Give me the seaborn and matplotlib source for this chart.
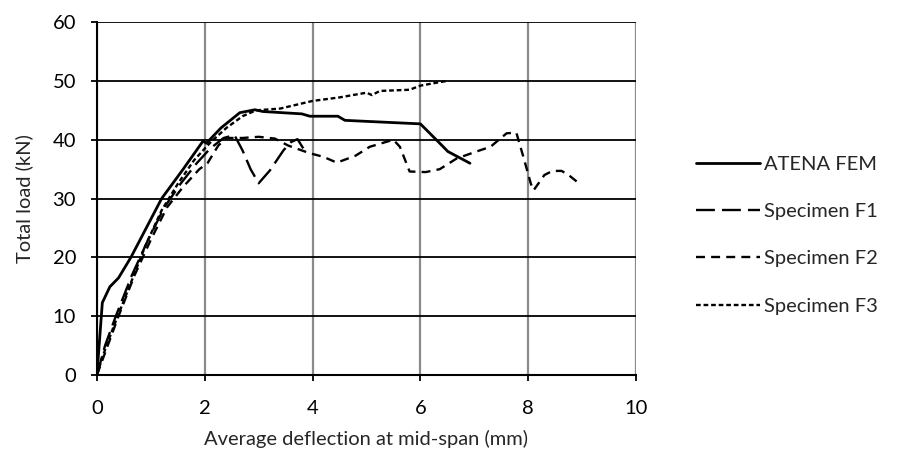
import seaborn as sns
import matplotlib.pyplot as plt
import pandas as pd

# values (deflection mm, load kN)
fem_x = [0, 0.1, 0.24, 0.4, 0.63, 1.2, 1.6, 1.97, 2.03, 2.3, 2.65, 2.93, 3.08, 3.8, 3.95, 4.47, 4.6, 5.06, 6.0, 6.36, 6.51, 6.92]
fem_y = [0, 12.3, 15.0, 16.5, 20.0, 30.0, 35.0, 39.8, 39.4, 42.0, 44.6, 45.1, 44.8, 44.4, 44.0, 44.0, 43.3, 43.1, 42.7, 39.4, 38.0, 36.0]

f1_x = [0, 0.15, 0.35, 0.65, 0.95, 1.25, 1.55, 1.85, 2.1, 2.35, 2.55, 2.7, 2.85, 3.0, 3.21, 3.46, 3.6, 3.72, 3.85]
f1_y = [0, 5.0, 10.0, 17.0, 23.0, 28.5, 32.5, 36.0, 38.5, 40.3, 40.8, 38.2, 35.0, 32.6, 34.8, 38.2, 39.6, 40.1, 38.2]

f2_x = [0, 0.2, 0.4, 0.7, 1.0, 1.3, 1.6, 1.9, 2.05, 2.25, 2.4, 2.7, 3.0, 3.3, 3.55, 3.95, 4.2, 4.45, 4.8, 5.06, 5.5,
        5.62, 5.8, 6.1, 6.36, 6.67, 7.04, 7.3, 7.6, 7.78, 7.91, 8.05, 8.1, 8.3, 8.45, 8.62, 8.75, 8.9]
f2_y = [0, 5.0, 10.0, 17.0, 23.0, 28.5, 32.0, 35.0, 36.0, 39.0, 40.3, 40.3, 40.5, 40.2, 39.0, 37.7, 37.1, 36.1, 37.3, 38.8, 40.0,
        38.8, 34.6, 34.5, 35.0, 36.8, 38.0, 38.8, 41.1, 41.2, 37.1, 32.5, 31.4, 34.0, 34.7, 34.7, 34.0, 32.9]

f3_x = [0, 0.1, 0.3, 0.6, 0.9, 1.2, 1.5, 1.8, 2.1, 2.4, 2.7, 2.95, 3.4, 4.0, 4.5, 5.0, 5.1, 5.25, 5.8, 6.0, 6.36, 6.5]
f3_y = [0, 3.0, 8.0, 15.0, 22.0, 28.0, 32.5, 36.5, 39.5, 42.0, 44.0, 45.0, 45.3, 46.6, 47.2, 48.0, 47.6, 48.3, 48.5, 49.2, 49.8, 50.0]

series = ["ATENA FEM", "Specimen F1", "Specimen F2", "Specimen F3"]

frames = []
for name, xs, ys in zip(series, [fem_x, f1_x, f2_x, f3_x], [fem_y, f1_y, f2_y, f3_y]):
    frames.append(pd.DataFrame({"x": xs, "y": ys, "series": name}))
df = pd.concat(frames, ignore_index=True)

sns.set_style("ticks")
plt.rcParams["font.family"] = ["Lato", "DejaVu Sans"]
fs = 14.5

fig = plt.figure(figsize=(9.06, 4.61), dpi=100)
ax = fig.add_axes([0.107, 0.1866, 0.595, 0.7654])

dash_styles = {"ATENA FEM": "", "Specimen F1": (8, 3), "Specimen F2": (3.8, 2.6), "Specimen F3": (2, 1.2)}
sns.lineplot(data=df, x="x", y="y", hue="series", style="series", palette=["black"] * 4,
             dashes=dash_styles, estimator=None, sort=False, legend=False, ax=ax)
lines = ax.get_lines()
for ln in lines:
    ln.set_linewidth(1.7)
lines[0].set_linewidth(2.0)

ax.set_xlim(0, 10)
ax.set_ylim(0, 60)
ax.set_xticks(range(0, 11, 2))
ax.set_yticks(range(0, 61, 10))
ax.xaxis.grid(True, color="#8a8a8a", linewidth=1.6)
ax.yaxis.grid(True, color="black", linewidth=1.3)
ax.set_axisbelow(True)
for side in ["top", "right"]:
    ax.spines[side].set_visible(False)
for side in ["left", "bottom"]:
    ax.spines[side].set_color("black")
    ax.spines[side].set_linewidth(1.5)
ax.tick_params(axis="x", direction="out", length=4, width=1.3, labelsize=fs, pad=14, colors="black")
ax.tick_params(axis="y", direction="out", length=4, width=1.3, labelsize=fs, pad=11, colors="black")
ax.set_xlabel("Average deflection at mid-span (mm)", fontsize=fs, labelpad=9)
ax.set_ylabel("Total load (kN)", fontsize=fs, labelpad=14)

leg = fig.legend(lines, series, loc="center left", bbox_to_anchor=(0.748, 0.49), frameon=False,
                 fontsize=fs, handlelength=3.2, handletextpad=0.2, labelspacing=1.5)

plt.savefig("out.png", dpi=100)
